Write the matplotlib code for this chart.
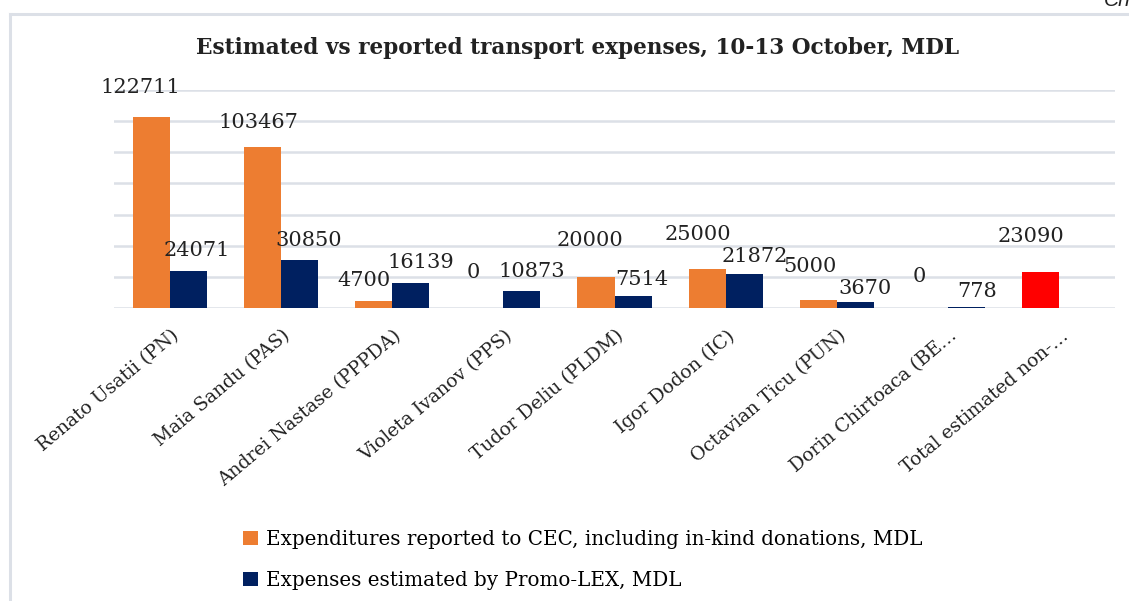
import matplotlib
matplotlib.use("Agg")
import matplotlib.pyplot as plt
import matplotlib.transforms as mtransforms
from matplotlib.patches import Patch
from matplotlib.lines import Line2D
import numpy as np

# ---------------- data ----------------
categories = ["Renato Usatii (PN)", "Maia Sandu (PAS)", "Andrei Nastase (PPPDA)",
              "Violeta Ivanov (PPS)", "Tudor Deliu (PLDM)", "Igor Dodon (IC)",
              "Octavian Ticu (PUN)", "Dorin Chirtoaca (BE\u2026", "Total estimated non-\u2026"]
reported = [122711, 103467, 4700, 0, 20000, 25000, 5000, 0, 23090]
estimated = [24071, 30850, 16139, 10873, 7514, 21872, 3670, 778, None]
series_names = ["Expenditures reported to CEC, including in-kind donations, MDL",
                "Expenses estimated by Promo-LEX, MDL"]
title = "Estimated vs reported transport expenses, 10-13 October, MDL"
y_max = 140000
y_step = 20000

# ---------------- style ----------------
ORANGE = "#ED7D31"
NAVY = "#002060"
RED = "#FF0000"
GRID = "#DCE0E7"
reported_colors = [ORANGE] * 8 + [RED]
# label offsets (pixels) relative to bar top centre
reported_label_offsets = [(-11, 29), (-4, 24), (-10, 20), (-11, 36), (-6, 36),
                          (-9, 35), (-8, 34), (-10, 32), (-10, 36)]
estimated_label_offsets = [(9, 20), (9, 19), (10, 20), (10, 20), (9, 17),
                           (11, 17), (10, 14), (10, 15)]

SERIF = "DejaVu Serif"

fig = plt.figure(figsize=(11.29, 6.01), dpi=100)
ax = fig.add_axes([114 / 1129, 1 - 308 / 601, (1115 - 114) / 1129, (308 - 90) / 601])

x = np.arange(len(categories))
w = 0.333
ax.bar(x - w / 2, reported, width=w, color=reported_colors, zorder=3)
est_vals = [np.nan if v is None else v for v in estimated]
ax.bar(x + w / 2, est_vals, width=w, color=NAVY, zorder=3)

for i, v in enumerate(reported):
    dx, dy = reported_label_offsets[i]
    ax.annotate(f"{v}", xy=(x[i] - w / 2, v), xytext=(dx, dy), textcoords="offset pixels",
                ha="center", va="center", fontsize=15, family=SERIF, color="#222222")
for i, v in enumerate(estimated):
    if v is None:
        continue
    dx, dy = estimated_label_offsets[i]
    ax.annotate(f"{v}", xy=(x[i] + w / 2, v), xytext=(dx, dy), textcoords="offset pixels",
                ha="center", va="center", fontsize=15, family=SERIF, color="#222222")

ax.set_xlim(-0.5, len(categories) - 0.5)
ax.set_ylim(0, y_max)
ax.set_yticks(np.arange(0, y_max + 1, y_step))
ax.yaxis.grid(True, color=GRID, linewidth=1.8)
ax.set_axisbelow(True)
for s in ax.spines.values():
    s.set_visible(False)
ax.tick_params(left=False, labelleft=False, bottom=False, pad=10)
ax.set_xticks(x)
ax.set_xticklabels(categories, rotation=40, ha="right", va="top", rotation_mode="anchor",
                   fontsize=13.5, family=SERIF, color="#222222")
offset = mtransforms.ScaledTranslation(1 / 100, 0, fig.dpi_scale_trans)
for lab in ax.get_xticklabels():
    lab.set_transform(lab.get_transform() + offset)

fig.text(578 / 1129, 1 - 48 / 601, title, ha="center", va="center",
         fontsize=15.6, fontweight="bold", family=SERIF, color="#222222")

handles = [Patch(facecolor=ORANGE), Patch(facecolor=NAVY)]
fig.legend(handles, series_names, loc="upper left", bbox_to_anchor=(243 / 1129, 1 - 530 / 601),
           frameon=False, handlelength=0.75, handleheight=0.75, handletextpad=0.4,
           labelspacing=1.1, borderpad=0, borderaxespad=0,
           prop={"family": SERIF, "size": 14.3})

# chart frame
fig.add_artist(Line2D([10 / 1129, 1], [1 - 14 / 601, 1 - 14 / 601], color=GRID, lw=2.2,
                      transform=fig.transFigure))
fig.add_artist(Line2D([10 / 1129, 10 / 1129], [0, 1 - 14 / 601], color=GRID, lw=2.2,
                      transform=fig.transFigure))
fig.text(1104 / 1129, 1 - 6 / 601, "Ch", ha="left", va="baseline", fontsize=15,
         style="italic", family="Liberation Sans", color="#222222")

fig.savefig("out.png", dpi=100)
